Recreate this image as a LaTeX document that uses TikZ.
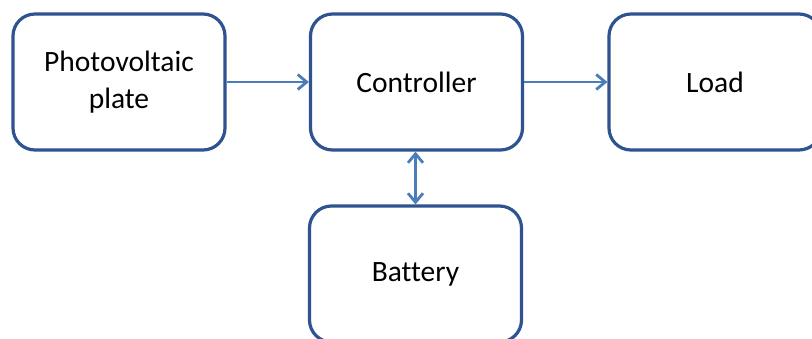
\documentclass[tikz,border=0pt]{standalone}
\usepackage{fontspec}
\setmainfont[Ligatures={NoCommon}]{Carlito}
\usetikzlibrary{arrows.meta}
\definecolor{boxblue}{HTML}{2F5390}
\definecolor{arrowblue}{HTML}{4A7EBB}
\begin{document}
\begin{tikzpicture}[x=1pt,y=-1pt,
  blockbox/.style={draw=boxblue, line width=3.2pt, rounded corners=22pt, fill=white,
    minimum width=212pt, minimum height=136pt, inner sep=0pt, align=center,
    font=\fontsize{29.5}{37}\selectfont},
  tipshape/.style={Straight Barb[length=9pt,width=15pt,line width=2.8pt]},
  flow/.style={draw=arrowblue, line width=2.8pt, -{Straight Barb[length=9pt,width=15pt,line width=2.8pt]}},
  biflow/.style={draw=arrowblue, line width=2.8pt, {Straight Barb[length=9pt,width=15pt,line width=2.8pt]}-{Straight Barb[length=9pt,width=15pt,line width=2.8pt]}}]
\useasboundingbox (0,0) rectangle (812,338);
\clip (0,0) rectangle (812,338);
\fill[white] (0,0) rectangle (812,338);
\node[blockbox] (pv) at (119,82) {Photovoltaic\\plate};
\node[blockbox] (ctrl) at (416.5,82) {Controller};
\node[blockbox] (load) at (715,82) {Load};
\node[blockbox] (bat) at (415.5,274) {Battery};
\draw[flow] (pv) -- (ctrl);
\draw[flow] (ctrl) -- (load);
\draw[biflow] (ctrl.south -| bat.north) -- (bat.north);
\end{tikzpicture}
\end{document}
